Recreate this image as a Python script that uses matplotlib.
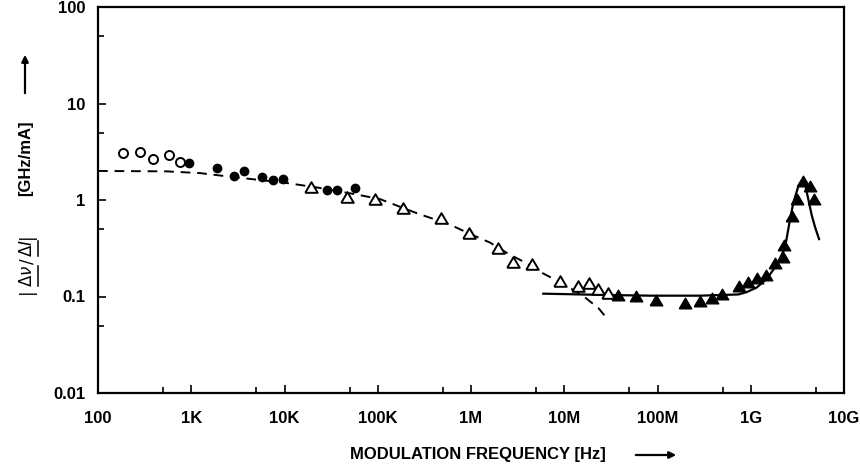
import numpy as np
import matplotlib
matplotlib.use('Agg')
import matplotlib.pyplot as plt
from matplotlib.lines import Line2D
from matplotlib.patches import FancyArrowPatch
from matplotlib.ticker import FixedLocator, FixedFormatter

plt.rcParams['font.family'] = ['Liberation Sans', 'DejaVu Sans']
plt.rcParams['mathtext.fontset'] = 'dejavusans'

# measured points (frequency in Hz, |dnu/dI| in GHz/mA)
open_circ_f = [187, 282, 386, 577, 757]
open_circ_v = [3.1, 3.15, 2.65, 2.95, 2.5]

filled_circ_f = [950, 1880, 2870, 3700, 5700, 7500, 9600, 28400, 36800, 57000]
filled_circ_v = [2.4, 2.13, 1.76, 1.98, 1.73, 1.6, 1.65, 1.26, 1.26, 1.32]

open_tri_f = [1.91e4, 4.71e4, 9.33e4, 1.85e5, 4.73e5, 9.6e5, 1.93e6, 2.8e6,
              4.48e6, 9.0e6, 1.42e7, 1.86e7, 2.32e7, 2.97e7]
open_tri_v = [1.36, 1.07, 1.02, 0.826, 0.645, 0.456, 0.315, 0.23,
              0.216, 0.145, 0.129, 0.137, 0.119, 0.109]

filled_tri_f = [3.8e7, 5.88e7, 9.63e7, 1.96e8, 2.84e8, 3.81e8, 4.88e8, 7.43e8,
                9.23e8, 1.17e9, 1.45e9, 1.81e9, 2.22e9, 2.28e9, 2.77e9, 3.16e9,
                3.63e9, 4.32e9, 4.79e9]
filled_tri_v = [0.1025, 0.101, 0.0924, 0.0866, 0.0894, 0.096, 0.105, 0.127,
                0.143, 0.155, 0.167, 0.221, 0.258, 0.339, 0.685, 1.02,
                1.59, 1.39, 1.03]

# theory curves
dash_f = [100, 550, 1240, 2400, 10600, 23200, 59400, 1.06e5, 2.62e5, 5.96e5,
          9.76e5, 1.6e6, 2.42e6, 3.64e6, 5.96e6, 9.77e6, 1.6e7, 2.32e7, 2.97e7]
dash_v = [2.0, 1.98, 1.9, 1.76, 1.5, 1.34, 1.14, 1.02, 0.73, 0.556,
          0.445, 0.362, 0.283, 0.23, 0.173, 0.135, 0.101, 0.076, 0.057]

solid_f = [5.96e6, 2.42e7, 8.3e7, 2.86e8, 7.35e8, 9.04e8, 1.16e9, 1.48e9, 1.9e9,
           2.33e9, 2.59e9, 2.86e9, 3.24e9, 3.52e9, 3.82e9, 4.14e9, 4.5e9,
           4.89e9, 5.4e9]
solid_v = [0.107, 0.104, 0.102, 0.102, 0.105, 0.111, 0.124, 0.152, 0.212,
           0.32, 0.57, 0.935, 1.39, 1.56, 1.45, 1.02, 0.70,
           0.525, 0.393]

xticks = [1e2, 1e3, 1e4, 1e5, 1e6, 1e7, 1e8, 1e9, 1e10]
xlabels = ['100', '1K', '10K', '100K', '1M', '10M', '100M', '1G', '10G']
yticks = [0.01, 0.1, 1, 10, 100]
ylabels = ['0.01', '0.1', '1', '10', '100']

# equilateral-ish triangle, a bit wider than tall like the scanned symbols
tri = [(-1, -0.85), (1, -0.85), (0, 0.85), (-1, -0.85)]

W, H = 860, 468
fig = plt.figure(figsize=(W / 100, H / 100), dpi=100)
ax = fig.add_axes([98 / W, 1 - 393 / H, (844 - 98) / W, (393 - 7) / H])
ax.set_xscale('log')
ax.set_yscale('log')
ax.set_xlim(1e2, 1e10)
ax.set_ylim(0.01, 100)

ax.plot(dash_f, dash_v, color='black', lw=1.4, ls=(0, (5, 3.5)))
ax.plot(solid_f, solid_v, color='black', lw=1.6)

ax.plot(open_circ_f, open_circ_v, 'o', ms=6.5, mfc='white', mec='black', mew=1.4)
ax.plot(filled_circ_f, filled_circ_v, 'o', ms=6, color='black')
ax.plot(open_tri_f, open_tri_v, marker=tri, ls='none', ms=9, mfc='white',
        mec='black', mew=1.4)
ax.plot(filled_tri_f, filled_tri_v, marker=tri, ls='none', ms=9, color='black')

ax.xaxis.set_major_locator(FixedLocator(xticks))
ax.xaxis.set_major_formatter(FixedFormatter(xlabels))
ax.xaxis.set_minor_locator(FixedLocator([5 * t for t in xticks[:-1]]))
ax.yaxis.set_major_locator(FixedLocator(yticks))
ax.yaxis.set_major_formatter(FixedFormatter(ylabels))
ax.yaxis.set_minor_locator(FixedLocator([5 * t for t in yticks[:-1]]))
ax.xaxis.set_minor_formatter(FixedFormatter([]))
ax.yaxis.set_minor_formatter(FixedFormatter([]))

ax.tick_params(which='both', direction='in', width=1.2, top=False, right=False)
ax.tick_params(which='major', length=6)
ax.tick_params(which='minor', length=4)
ax.tick_params(axis='x', which='major', pad=13)
ax.tick_params(axis='y', which='major', pad=9)
for lab in ax.get_xticklabels() + ax.get_yticklabels():
    lab.set_fontweight('bold')
    lab.set_fontsize(12)
for sp in ax.spines.values():
    sp.set_linewidth(1.6)

# y label: |Δν/ΔI| with underlined phasors, built piece by piece (rotated)
renderer = fig.canvas.get_renderer()
pieces = [('|', False), (r'$\Delta\nu$', True), ('/', False),
          (r'$\Delta I$', True), ('|', False)]
lab_x = 27
texts = []
for s, ul in pieces:
    t = fig.text(lab_x / W, 0.5, s, rotation=90, ha='center', va='bottom',
                 fontsize=12, family='DejaVu Sans')
    texts.append((t, ul))
sizes = [t.get_window_extent(renderer).height + 1 for t, _ in texts]
y = (H - 263) - sum(sizes) / 2
for (t, ul), h in zip(texts, sizes):
    t.set_position((lab_x / W, y / H))
    if ul:
        bb = t.get_window_extent(renderer)
        xl = bb.x1 + 1.5
        fig.lines.append(Line2D([xl / W, xl / W], [(y + 1) / H, (y + h - 2) / H],
                                transform=fig.transFigure, color='black', lw=1.1))
    y += h

fig.text(26 / W, 1 - 158 / H, '[GHz/mA]', rotation=90, ha='center', va='center',
         fontsize=12, fontweight='bold')
fig.patches.append(FancyArrowPatch(
    (25 / W, 1 - 96 / H), (25 / W, 1 - 52 / H), transform=fig.transFigure,
    arrowstyle='-|>', mutation_scale=10, lw=1.6, color='black'))

# x label
fig.text(478 / W, 1 - 455 / H, 'MODULATION FREQUENCY [Hz]', ha='center', va='center',
         fontsize=12, fontweight='bold')
fig.patches.append(FancyArrowPatch(
    (633 / W, 1 - 455 / H), (679 / W, 1 - 455 / H), transform=fig.transFigure,
    arrowstyle='-|>', mutation_scale=10, lw=1.6, color='black'))

fig.savefig('out.png', dpi=100)
